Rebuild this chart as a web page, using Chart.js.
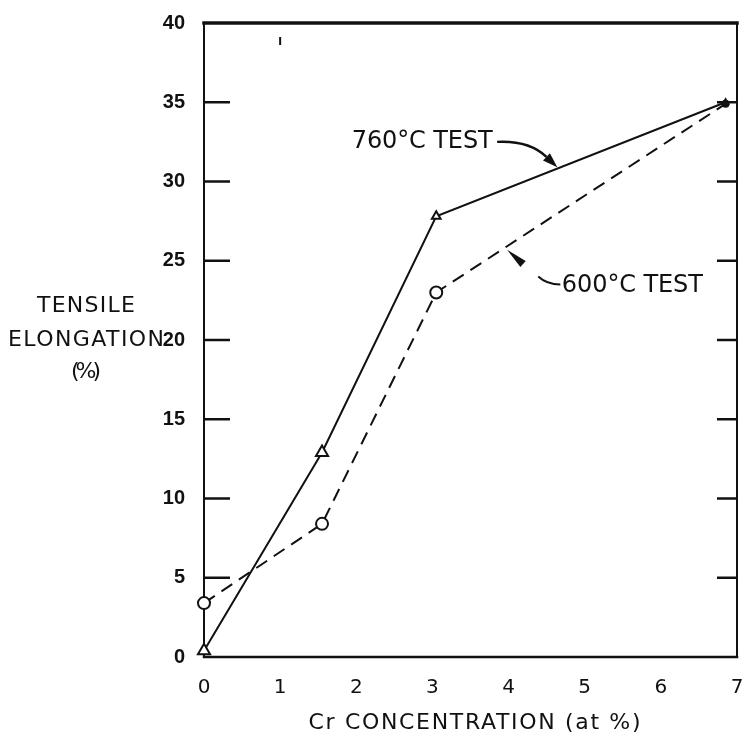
<!DOCTYPE html>
<html>
<head>
<meta charset="utf-8">
<script src="https://cdn.jsdelivr.net/npm/chart.js@4.4.1/dist/chart.umd.min.js"></script>
<style>
  html, body { margin: 0; padding: 0; background: #fff; }
  #wrap { width: 742px; height: 740px; }
</style>
</head>
<body>
<div id="wrap"><canvas id="elongChart" width="742" height="740"></canvas></div>
<script>
// Cr濃度 (at %) と伸び (%)
const crConc = [0, 1.55, 3.05, 6.85];
const elong760 = [0.4, 12.9, 27.8, 35.0];
const elong600 = [3.4, 8.4, 23.0, 34.9];
const xTicks = [0, 1, 2, 3, 4, 5, 6, 7];
const yTicks = [0, 5, 10, 15, 20, 25, 30, 35, 40];

const INK = '#111';
const FONT = '"DejaVu Sans", sans-serif';

// 注釈の位置（データ座標）
const note760 = { text: '760°C TEST', x: 1.94, y: 32.5, w: 141 };
const arrow760 = { from: [3.85, 32.5], ctrl: [4.27, 32.6], tip: [4.64, 30.9] };
const note600 = { text: '600°C TEST', x: 4.70, y: 23.4, w: 141 };
const leader600 = { from: [4.39, 24.0], ctrl: [4.50, 23.5], to: [4.68, 23.5] };
const wedge600 = { tip: [3.98, 25.7], base: [4.19, 24.8] };

// 文字幅を指定値に合わせて描く
const drawFitted = (ctx, text, left, cy, width) => {
    ctx.letterSpacing = '0px';
    const w0 = ctx.measureText(text).width;
    const sp = (width - w0) / Math.max(text.length - 1, 1);
    ctx.letterSpacing = sp + 'px';
    ctx.textAlign = 'left';
    ctx.textBaseline = 'middle';
    ctx.fillText(text, left, cy);
    ctx.letterSpacing = '0px';
};

const seg = (ctx, x1, y1, x2, y2) => {
    ctx.beginPath();
    ctx.moveTo(x1, y1);
    ctx.lineTo(x2, y2);
    ctx.stroke();
};

// 枠と内向き目盛り
const framePlugin = {
    id: 'frame',
    beforeDatasetsDraw(chart) {
        const { ctx, chartArea: a, scales: { x, y } } = chart;
        ctx.save();
        ctx.strokeStyle = INK;
        ctx.lineCap = 'square';
        ctx.lineWidth = 3.5;
        seg(ctx, a.left, a.top, a.right, a.top);
        ctx.lineWidth = 2.5;
        seg(ctx, a.left, a.bottom, a.right, a.bottom);
        ctx.lineWidth = 2;
        seg(ctx, a.left, a.top, a.left, a.bottom);
        seg(ctx, a.right, a.top, a.right, a.bottom);

        ctx.lineCap = 'butt';
        ctx.lineWidth = 2.5;
        yTicks.slice(1, -1).forEach(v => {
            const py = y.getPixelForValue(v);
            seg(ctx, a.left, py, a.left + 26, py);
            seg(ctx, a.right - 20, py, a.right, py);
        });
        // 上辺の x=1 の目盛り
        ctx.lineWidth = 2;
        const px1 = x.getPixelForValue(1);
        seg(ctx, px1, a.top + 14, px1, a.top + 22);
        ctx.restore();
    },
    afterDatasetsDraw(chart) {
        const { ctx, chartArea: a, scales: { x, y } } = chart;
        const P = (p) => [x.getPixelForValue(p[0]), y.getPixelForValue(p[1])];
        ctx.save();
        ctx.fillStyle = INK;
        ctx.strokeStyle = INK;

        // 760°C のラベルと矢印
        ctx.font = `24px ${FONT}`;
        drawFitted(ctx, note760.text, x.getPixelForValue(note760.x), y.getPixelForValue(note760.y), note760.w);
        const [fx, fy] = P(arrow760.from), [cx, cy] = P(arrow760.ctrl), [tx, ty] = P(arrow760.tip);
        const hl = 15, hw = 5;
        let dx = tx - cx, dy = ty - cy;
        const len = Math.hypot(dx, dy);
        dx /= len; dy /= len;
        const bx = tx - dx * hl, by = ty - dy * hl;
        ctx.lineWidth = 2.5;
        ctx.beginPath();
        ctx.moveTo(fx, fy);
        ctx.quadraticCurveTo(cx, cy, bx, by);
        ctx.stroke();
        ctx.beginPath();
        ctx.moveTo(tx, ty);
        ctx.lineTo(bx - dy * hw, by + dx * hw);
        ctx.lineTo(bx + dy * hw, by - dx * hw);
        ctx.closePath();
        ctx.fill();

        // 600°C のラベルと引出し線
        drawFitted(ctx, note600.text, x.getPixelForValue(note600.x), y.getPixelForValue(note600.y), note600.w);
        const [lx, ly] = P(leader600.from), [kx, ky] = P(leader600.ctrl), [ex, ey] = P(leader600.to);
        ctx.lineWidth = 2;
        ctx.beginPath();
        ctx.moveTo(lx, ly);
        ctx.quadraticCurveTo(kx, ky, ex, ey);
        ctx.stroke();
        const [wx, wy] = P(wedge600.tip), [vx, vy] = P(wedge600.base);
        let ux = vx - wx, uy = vy - wy;
        const ul = Math.hypot(ux, uy);
        ux /= ul; uy /= ul;
        ctx.beginPath();
        ctx.moveTo(wx, wy);
        ctx.lineTo(vx - uy * 4, vy + ux * 4);
        ctx.lineTo(vx + uy * 4, vy - ux * 4);
        ctx.closePath();
        ctx.fill();

        // 軸タイトル
        ctx.font = `22px ${FONT}`;
        const y20 = y.getPixelForValue(20);
        const yTitle = [['TENSILE', 98, -34], ['ELONGATION', 156, 0], ['(%)', 30, 32]];
        yTitle.forEach(([t, w, off]) => drawFitted(ctx, t, 86 - w / 2, y20 + off, w));
        const xMid = (a.left + a.right) / 2 + 4;
        drawFitted(ctx, 'Cr CONCENTRATION (at %)', xMid - 166, a.bottom + 66, 332);
        ctx.restore();
    }
};

const ctx = document.getElementById('elongChart').getContext('2d');
new Chart(ctx, {
    type: 'line',
    data: {
        datasets: [
            {
                label: '760°C TEST',
                data: crConc.map((c, i) => ({ x: c, y: elong760[i] })),
                borderColor: INK,
                borderWidth: 2,
                pointStyle: 'triangle',
                pointRadius: [7, 7, 5, 3],
                pointBorderWidth: 2,
                pointBorderColor: INK,
                pointBackgroundColor: ['#fff', '#fff', '#fff', INK],
                tension: 0,
                clip: false
            },
            {
                label: '600°C TEST',
                data: crConc.map((c, i) => ({ x: c, y: elong600[i] })),
                borderColor: INK,
                borderWidth: 2,
                borderDash: [13, 8],
                pointStyle: 'circle',
                pointRadius: [6, 6, 6, 3],
                pointBorderWidth: 2,
                pointBorderColor: INK,
                pointBackgroundColor: ['#fff', '#fff', '#fff', INK],
                tension: 0,
                clip: false
            }
        ]
    },
    options: {
        responsive: false,
        devicePixelRatio: 1,
        animation: false,
        layout: { autoPadding: false, padding: { top: 23, right: 5, left: 0, bottom: 0 } },
        plugins: { legend: { display: false }, tooltip: { enabled: false } },
        scales: {
            x: {
                type: 'linear',
                min: 0,
                max: 7,
                afterBuildTicks: sc => { sc.ticks = xTicks.map(v => ({ value: v })); },
                afterFit: sc => { sc.height = 83; sc.paddingLeft = 0; sc.paddingRight = 0; },
                ticks: { color: INK, font: { family: FONT, size: 20 }, padding: 11, maxRotation: 0, autoSkip: false },
                grid: { display: false },
                border: { display: false }
            },
            y: {
                min: 0,
                max: 40,
                afterBuildTicks: sc => { sc.ticks = yTicks.map(v => ({ value: v })); },
                afterFit: sc => { sc.width = 204; },
                ticks: { color: INK, font: { family: '"Liberation Sans", sans-serif', size: 20, weight: 'bold' }, padding: 11, autoSkip: false },
                grid: { display: false },
                border: { display: false }
            }
        }
    },
    plugins: [framePlugin]
});
</script>
</body>
</html>
